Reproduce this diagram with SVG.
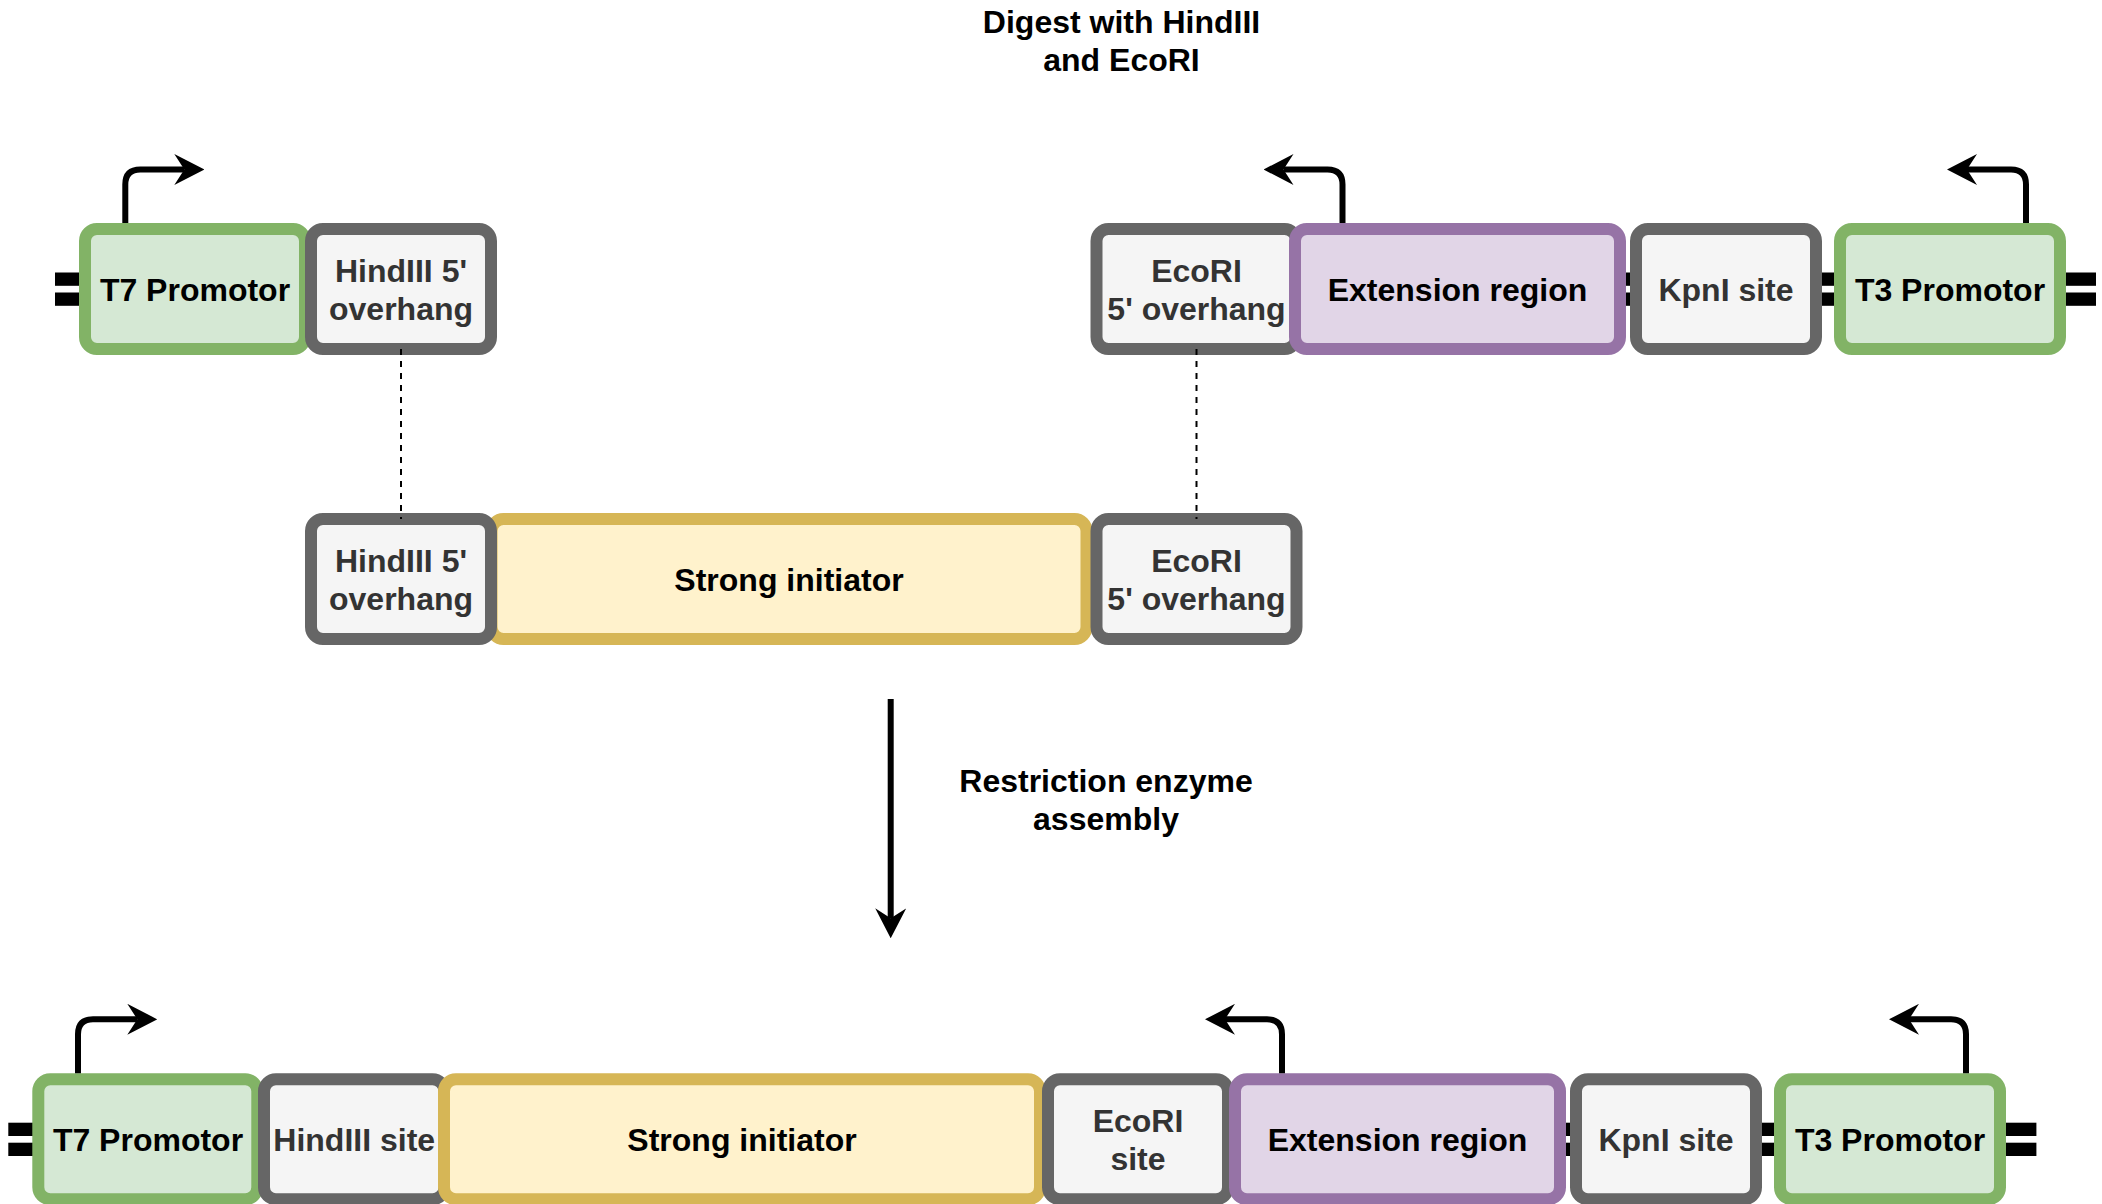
<svg xmlns="http://www.w3.org/2000/svg" width="2102" height="1204" viewBox="0 0 2102 1204">
<defs>
<style>
.box{stroke-width:12}
.grn{fill:#d5e8d4;stroke:#82b366}
.gry{fill:#f5f5f5;stroke:#666666}
.pur{fill:#e1d5e7;stroke:#9673a6}
.yel{fill:#fff2cc;stroke:#d6b656}
text{font-family:"Liberation Sans",Arial,Helvetica,sans-serif;font-weight:bold;font-size:32px;text-anchor:middle}
.dk{fill:#000000}
.gt{fill:#333333}
.bb{fill:#000000}
.pr{fill:none;stroke:#000;stroke-width:6;marker-end:url(#ah)}
.dash{fill:none;stroke:#000;stroke-width:2;stroke-dasharray:6 6}
</style>
<marker id="ah" viewBox="0 0 30 31" refX="10" refY="15.5" markerWidth="30" markerHeight="31" markerUnits="userSpaceOnUse" orient="auto">
<path d="M0,0 L30,15.5 L0,31 L10,15.5 Z" fill="#000"/>
</marker>
</defs>
<rect width="2102" height="1204" fill="#ffffff"/>

<g id="backbone">
<rect class="bb" x="55" y="272.5" width="30" height="13.3"/>
<rect class="bb" x="55" y="292.5" width="30" height="13.3"/>
<rect class="bb" x="1618" y="272.5" width="20" height="13.3"/>
<rect class="bb" x="1618" y="292.5" width="20" height="13.3"/>
<rect class="bb" x="1814" y="272.5" width="28" height="13.3"/>
<rect class="bb" x="1814" y="292.5" width="28" height="13.3"/>
<rect class="bb" x="2058" y="272.5" width="38" height="13.3"/>
<rect class="bb" x="2058" y="292.5" width="38" height="13.3"/>
<rect class="bb" x="8.3" y="1122.7" width="32" height="13.3"/>
<rect class="bb" x="8.3" y="1142.7" width="32" height="13.3"/>
<rect class="bb" x="1558" y="1122.7" width="20" height="13.3"/>
<rect class="bb" x="1558" y="1142.7" width="20" height="13.3"/>
<rect class="bb" x="1754" y="1122.7" width="28" height="13.3"/>
<rect class="bb" x="1754" y="1142.7" width="28" height="13.3"/>
<rect class="bb" x="1998" y="1122.7" width="38.4" height="13.3"/>
<rect class="bb" x="1998" y="1142.7" width="38.4" height="13.3"/>
</g>

<g id="top-t7"><rect class="box grn" x="85" y="229" width="220" height="120" rx="12"/><text class="dk" x="195" y="300.5">T7 Promotor</text></g>
<g id="top-hindiii"><rect class="box gry" x="311" y="229" width="180" height="120" rx="12"/><text class="gt" x="401" y="281.5">HindIII 5'</text><text class="gt" x="401" y="319.5">overhang</text></g>
<g id="top-ecori"><rect class="box gry" x="1096.5" y="229" width="200" height="120" rx="12"/><text class="gt" x="1196.5" y="281.5">EcoRI</text><text class="gt" x="1196.5" y="319.5">5' overhang</text></g>
<g id="top-extension"><rect class="box pur" x="1295" y="229" width="325" height="120" rx="12"/><text class="dk" x="1457.5" y="300.5">Extension region</text></g>
<g id="top-kpni"><rect class="box gry" x="1636" y="229" width="180" height="120" rx="12"/><text class="gt" x="1726" y="300.5">KpnI site</text></g>
<g id="top-t3"><rect class="box grn" x="1840" y="229" width="220" height="120" rx="12"/><text class="dk" x="1950" y="300.5">T3 Promotor</text></g>

<g id="mid-strong"><rect class="box yel" x="491.5" y="519" width="595" height="120" rx="12"/><text class="dk" x="789" y="590.5">Strong initiator</text></g>
<g id="mid-hindiii"><rect class="box gry" x="311" y="519" width="180" height="120" rx="12"/><text class="gt" x="401" y="571.5">HindIII 5'</text><text class="gt" x="401" y="609.5">overhang</text></g>
<g id="mid-ecori"><rect class="box gry" x="1096.5" y="519" width="200" height="120" rx="12"/><text class="gt" x="1196.5" y="571.5">EcoRI</text><text class="gt" x="1196.5" y="609.5">5' overhang</text></g>

<g id="bot-t7"><rect class="box grn" x="38.3" y="1079.2" width="219" height="120" rx="12"/><text class="dk" x="148" y="1150.5">T7 Promotor</text></g>
<g id="bot-hindiii"><rect class="box gry" x="264" y="1079.2" width="180.5" height="120" rx="12"/><text class="gt" x="354.2" y="1150.5">HindIII site</text></g>
<g id="bot-strong"><rect class="box yel" x="444" y="1079.2" width="596" height="120" rx="12"/><text class="dk" x="742" y="1150.5">Strong initiator</text></g>
<g id="bot-ecori"><rect class="box gry" x="1048" y="1079.2" width="180" height="120" rx="12"/><text class="gt" x="1138" y="1131.7">EcoRI</text><text class="gt" x="1138" y="1169.7">site</text></g>
<g id="bot-extension"><rect class="box pur" x="1235" y="1079.2" width="325" height="120" rx="12"/><text class="dk" x="1397.5" y="1150.5">Extension region</text></g>
<g id="bot-kpni"><rect class="box gry" x="1576" y="1079.2" width="180" height="120" rx="12"/><text class="gt" x="1666" y="1150.5">KpnI site</text></g>
<g id="bot-t3"><rect class="box grn" x="1780" y="1079.2" width="220" height="120" rx="12"/><text class="dk" x="1890" y="1150.5">T3 Promotor</text></g>

<g id="label-digest"><text class="dk" x="1121.5" y="32.5">Digest with HindIII</text><text class="dk" x="1121.5" y="70.5">and EcoRI</text></g>
<g id="label-assembly"><text class="dk" x="1106" y="792">Restriction enzyme</text><text class="dk" x="1106" y="829.5">assembly</text></g>

<g id="connectors">
<path class="pr" d="M125.3,223 V184.5 Q125.3,169.5 140.3,169.5 H184.3"/>
<path class="pr" d="M1342.5,223 V184.5 Q1342.5,169.5 1327.5,169.5 H1283.5"/>
<path class="pr" d="M2026,223 V184.5 Q2026,169.5 2011,169.5 H1967"/>
<path class="pr" d="M78,1073.2 V1034.3 Q78,1019.3 93,1019.3 H137.3"/>
<path class="pr" d="M1282,1073.2 V1034.3 Q1282,1019.3 1267,1019.3 H1225"/>
<path class="pr" d="M1966,1073.2 V1034.3 Q1966,1019.3 1951,1019.3 H1909"/>
<path class="pr" d="M890.7,699 V918.3"/>
<path class="dash" d="M401,349 V519"/>
<path class="dash" d="M1196.5,349 V519"/>
</g>
</svg>
